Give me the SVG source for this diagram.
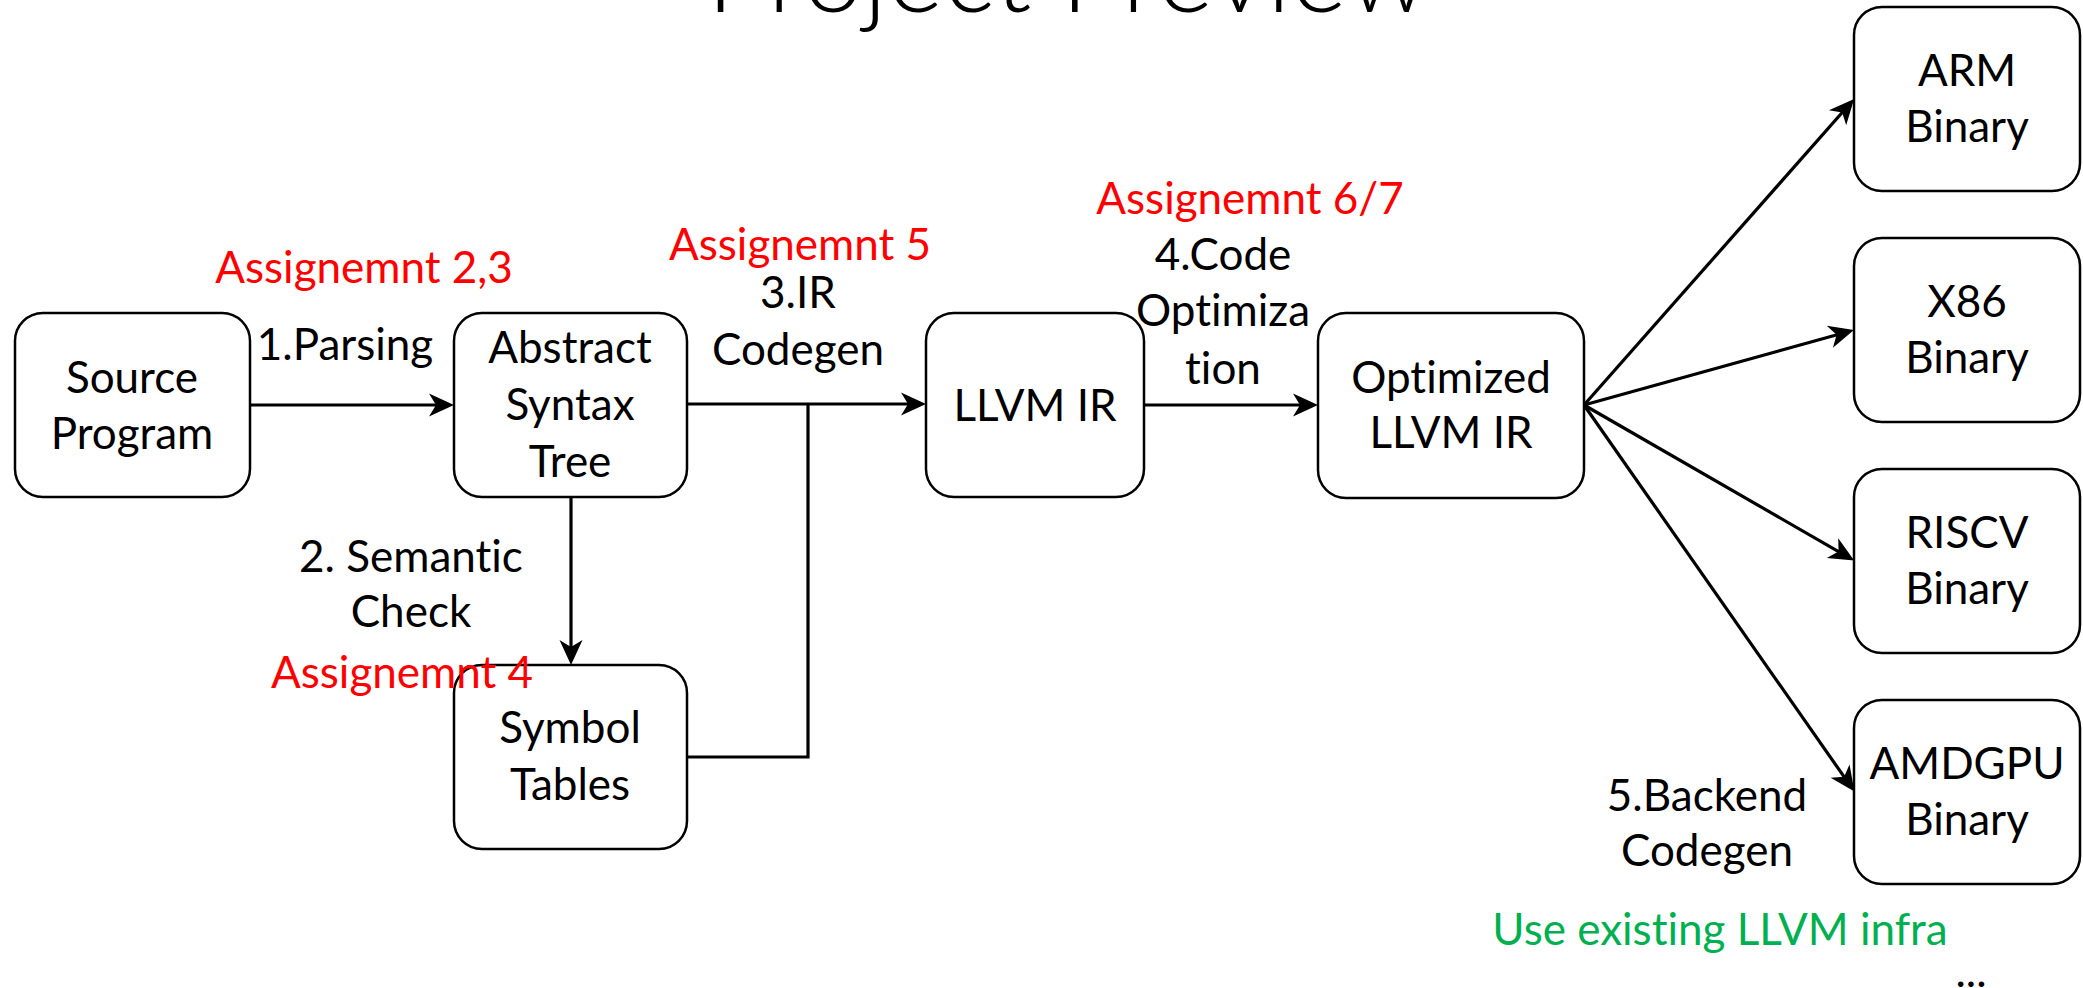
<svg xmlns="http://www.w3.org/2000/svg" width="2083" height="988" viewBox="0 0 2083 988">
<style>
  .box { fill: #ffffff; stroke: #000000; stroke-width: 2.5; }
  .t { font-family: Lato, "Open Sans", "Liberation Sans", sans-serif; font-size: 44px; fill: #000000; text-anchor: middle; font-variant-ligatures: none; font-feature-settings: "liga" 0, "clig" 0; }
  .red { fill: #ff0000; }
  .green { fill: #00b050; }
  .title { font-family: Lato, "Open Sans", "Liberation Sans", sans-serif; font-weight: 300; font-size: 108px; fill: #000000; text-anchor: middle; font-variant-ligatures: none; }
  .edge { fill: none; stroke: #000000; stroke-width: 3.2; }
</style>
<defs>
  <marker id="arr" viewBox="-16 -12 28 24" refX="0" refY="0" markerWidth="28" markerHeight="24" markerUnits="userSpaceOnUse" orient="auto">
    <path d="M10,0 L-15,-11.5 L-8,0 L-15,11.5 Z" fill="#000000"/>
  </marker>
</defs>
<rect width="2083" height="988" fill="#ffffff"/>

<text class="title" x="1068" y="12">Project Preview</text>

<g id="connectors">
  <line class="edge" x1="250" y1="405" x2="444" y2="405" marker-end="url(#arr)"/>
  <line class="edge" x1="687" y1="404" x2="916" y2="404" marker-end="url(#arr)"/>
  <polyline class="edge" points="687,757 808,757 808,404"/>
  <line class="edge" x1="571" y1="497" x2="571" y2="655" marker-end="url(#arr)"/>
  <line class="edge" x1="1144" y1="405" x2="1308" y2="405" marker-end="url(#arr)"/>
  <line class="edge" x1="1584" y1="405" x2="1847.5" y2="106.5" marker-end="url(#arr)"/>
  <line class="edge" x1="1584" y1="405" x2="1844.3" y2="332.7" marker-end="url(#arr)"/>
  <line class="edge" x1="1584" y1="405" x2="1845.5" y2="555.6" marker-end="url(#arr)"/>
  <line class="edge" x1="1584" y1="405" x2="1848.7" y2="783.4" marker-end="url(#arr)"/>
</g>

<g id="label-parsing">
  <text class="t red" x="364" y="283">Assignemnt 2,3</text>
  <text class="t" x="345" y="360">1.Parsing</text>
</g>
<g id="label-semantic">
  <text class="t" x="411" y="572">2. Semantic</text>
  <text class="t" x="411" y="627">Check</text>
</g>
<g id="label-ircodegen">
  <text class="t red" x="800" y="260">Assignemnt 5</text>
  <text class="t" x="798" y="308">3.IR</text>
  <text class="t" x="798" y="365">Codegen</text>
</g>
<g id="label-opt">
  <text class="t red" x="1250" y="214">Assignemnt 6/7</text>
  <text class="t" x="1223" y="270">4.Code</text>
  <text class="t" x="1223" y="326">Optimiza</text>
  <text class="t" x="1223" y="384">tion</text>
</g>
<g id="label-backend">
  <text class="t" x="1707" y="811">5.Backend</text>
  <text class="t" x="1707" y="866">Codegen</text>
  <text class="t green" x="1720" y="945">Use existing LLVM infra</text>
  <text class="t" x="1971" y="987">...</text>
</g>

<g id="node-source">
  <rect class="box" x="15" y="313" width="235" height="184" rx="28"/>
  <text class="t" x="132" y="393">Source</text>
  <text class="t" x="132" y="449">Program</text>
</g>
<g id="node-ast">
  <rect class="box" x="454" y="313" width="233" height="184" rx="28"/>
  <text class="t" x="570" y="363">Abstract</text>
  <text class="t" x="570" y="420">Syntax</text>
  <text class="t" x="570" y="477">Tree</text>
</g>
<g id="node-symbol">
  <rect class="box" x="454" y="665" width="233" height="184" rx="28"/>
  <text class="t" x="570" y="743">Symbol</text>
  <text class="t" x="570" y="800">Tables</text>
</g>
<text class="t red" x="402" y="688">Assignemnt 4</text>
<g id="node-llvmir">
  <rect class="box" x="926" y="313" width="218" height="184" rx="28"/>
  <text class="t" x="1035" y="421">LLVM IR</text>
</g>
<g id="node-optimized">
  <rect class="box" x="1318" y="313" width="266" height="185" rx="28"/>
  <text class="t" x="1451" y="393">Optimized</text>
  <text class="t" x="1451" y="448">LLVM IR</text>
</g>
<g id="node-arm">
  <rect class="box" x="1854" y="7" width="226" height="184" rx="28"/>
  <text class="t" x="1967" y="86">ARM</text>
  <text class="t" x="1967" y="142">Binary</text>
</g>
<g id="node-x86">
  <rect class="box" x="1854" y="238" width="226" height="184" rx="28"/>
  <text class="t" x="1967" y="317">X86</text>
  <text class="t" x="1967" y="373">Binary</text>
</g>
<g id="node-riscv">
  <rect class="box" x="1854" y="469" width="226" height="184" rx="28"/>
  <text class="t" x="1967" y="548">RISCV</text>
  <text class="t" x="1967" y="604">Binary</text>
</g>
<g id="node-amdgpu">
  <rect class="box" x="1854" y="700" width="226" height="184" rx="28"/>
  <text class="t" x="1967" y="779">AMDGPU</text>
  <text class="t" x="1967" y="835">Binary</text>
</g>
</svg>
